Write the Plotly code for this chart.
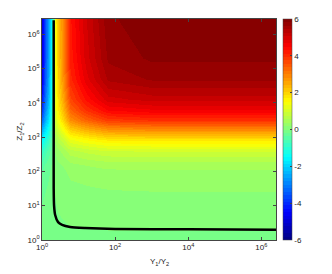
import plotly.graph_objects as go

# ---- data (log10 coordinates) ----
x_log = [0, 0.08, 0.16, 0.25, 0.32, 0.36, 0.44, 0.58, 0.77, 1.2, 1.8, 3.0, 6.4]
y_log = [0, 0.3, 0.6, 1.0, 1.5, 2.0, 2.2, 2.6, 2.9, 3.3, 3.5, 3.8, 4.1, 4.7, 5.3, 6.4]
z_vals = [
    [-0.05, -0.05, -0.05, -0.05, -0.05, -0.05, -0.05, -0.05, -0.05, -0.05, -0.05, -0.05, -0.05],
    [-0.09, -0.08, -0.07, -0.06, -0.05, -0.04, -0.03, -0.03, -0.01, -0.01, 0.0, 0.0, 0.0],
    [-0.13, -0.11, -0.10, -0.08, -0.05, -0.03, -0.01, 0.0, 0.02, 0.04, 0.05, 0.05, 0.05],
    [-0.17, -0.14, -0.12, -0.09, -0.05, -0.01, 0.01, 0.03, 0.06, 0.08, 0.10, 0.10, 0.10],
    [-0.25, -0.20, -0.16, -0.11, -0.05, 0.01, 0.04, 0.08, 0.13, 0.16, 0.19, 0.20, 0.20],
    [-0.37, -0.29, -0.23, -0.15, -0.05, 0.05, 0.10, 0.15, 0.24, 0.29, 0.34, 0.35, 0.35],
    [-0.45, -0.35, -0.28, -0.18, -0.05, 0.08, 0.14, 0.20, 0.31, 0.38, 0.44, 0.45, 0.45],
    [-0.85, -0.65, -0.50, -0.30, -0.05, 0.20, 0.32, 0.45, 0.67, 0.80, 0.92, 0.95, 0.95],
    [-1.49, -1.13, -0.86, -0.50, -0.05, 0.40, 0.62, 0.85, 1.25, 1.48, 1.70, 1.75, 1.75],
    [-2.61, -1.97, -1.49, -0.85, -0.05, 0.75, 1.13, 1.55, 2.25, 2.67, 3.05, 3.15, 3.15],
    [-3.25, -2.45, -1.85, -1.05, -0.05, 0.95, 1.43, 1.95, 2.83, 3.35, 3.83, 3.95, 3.95],
    [-3.81, -2.87, -2.17, -1.23, -0.05, 1.13, 1.69, 2.30, 3.33, 3.95, 4.51, 4.65, 4.65],
    [-4.21, -3.17, -2.39, -1.35, -0.05, 1.25, 1.87, 2.55, 3.69, 4.37, 4.99, 5.15, 5.15],
    [-4.61, -3.47, -2.62, -1.48, -0.05, 1.38, 2.06, 2.80, 4.05, 4.80, 5.48, 5.65, 5.65],
    [-4.77, -3.59, -2.71, -1.53, -0.05, 1.43, 2.13, 2.90, 4.20, 4.97, 5.67, 5.85, 5.85],
    [-4.85, -3.65, -2.75, -1.55, -0.05, 1.45, 2.17, 2.95, 4.27, 5.05, 5.77, 5.95, 5.95],
]
line_x = [0.32, 0.32, 0.32, 0.33, 0.36, 0.44, 0.55, 0.77, 1.18, 2.0, 4.0, 6.4]
line_y = [6.4, 3.0, 1.5, 1.0, 0.73, 0.52, 0.44, 0.38, 0.35, 0.32, 0.31, 0.30]

x_tickvals = [0, 2, 4, 6]
x_ticktext = ["10<sup>0</sup>", "10<sup>2</sup>", "10<sup>4</sup>", "10<sup>6</sup>"]
y_tickvals = [0, 1, 2, 3, 4, 5, 6]
y_ticktext = ["10<sup>%d</sup>" % v for v in y_tickvals]
cb_tickvals = [-6, -4, -2, 0, 2, 4, 6]
cb_ticktext = ["-6", "-4", "-2", "0", "2", "4", "6"]


# ---- MATLAB-like jet(64) stepped colorscale ----
def jet(t):
    def c(v):
        return max(0.0, min(1.0, v))
    r = c(1.5 - abs(4 * t - 3))
    g = c(1.5 - abs(4 * t - 2))
    b = c(1.5 - abs(4 * t - 1))
    return "rgb(%d,%d,%d)" % (round(r * 255), round(g * 255), round(b * 255))


n = 64
scale = []
for i in range(n):
    col = jet((i + 0.5) / n)
    scale.append([i / n, col])
    scale.append([(i + 1) / n, col])

font = dict(family="Liberation Sans, Arial, sans-serif", size=8, color="#222")

fig = go.Figure()
fig.add_trace(go.Heatmap(
    x=x_log, y=y_log, z=z_vals, zmin=-6, zmax=6, zsmooth="best",
    colorscale=scale,
    colorbar=dict(
        x=1.03, xanchor="left", xpad=0, ypad=0, y=0, yanchor="bottom",
        len=1, lenmode="fraction", thickness=9, outlinewidth=0.5,
        outlinecolor="#444", tickvals=cb_tickvals, ticktext=cb_ticktext,
        ticks="inside", ticklen=2, tickcolor="#444", tickfont=font,
    ),
))
fig.add_trace(go.Scatter(
    x=line_x, y=line_y, mode="lines", line=dict(color="black", width=2.5, shape="spline", smoothing=0.6),
    showlegend=False, hoverinfo="skip",
))

axis_common = dict(
    showgrid=False, zeroline=False, showline=True, linecolor="#444", linewidth=0.6,
    mirror="ticks", ticks="inside", ticklen=3, tickcolor="#444", tickfont=font,
)
fig.update_xaxes(range=[0, 6.4], tickvals=x_tickvals, ticktext=x_ticktext, **axis_common)
fig.update_yaxes(range=[0, 6.44], tickvals=y_tickvals, ticktext=y_ticktext, **axis_common)

fig.add_annotation(text="Y<sub>1</sub>/Y<sub>2</sub>", xref="paper", yref="paper",
                   x=0.5, y=-0.10, showarrow=False, font=font, xanchor="center", yanchor="middle")
fig.add_annotation(text="Z<sub>1</sub>/Z<sub>2</sub>", xref="paper", yref="paper",
                   x=-0.094, y=0.49, showarrow=False, font=font, textangle=-90,
                   xanchor="center", yanchor="middle")

# the page adds an 8px body margin, so the figure is sized 8px smaller
fig.update_layout(
    width=324, height=266,
    margin=dict(l=34, r=56, t=11, b=34),
    paper_bgcolor="white", plot_bgcolor="white",
    font=font, showlegend=False,
)
fig.write_html("out.html")
